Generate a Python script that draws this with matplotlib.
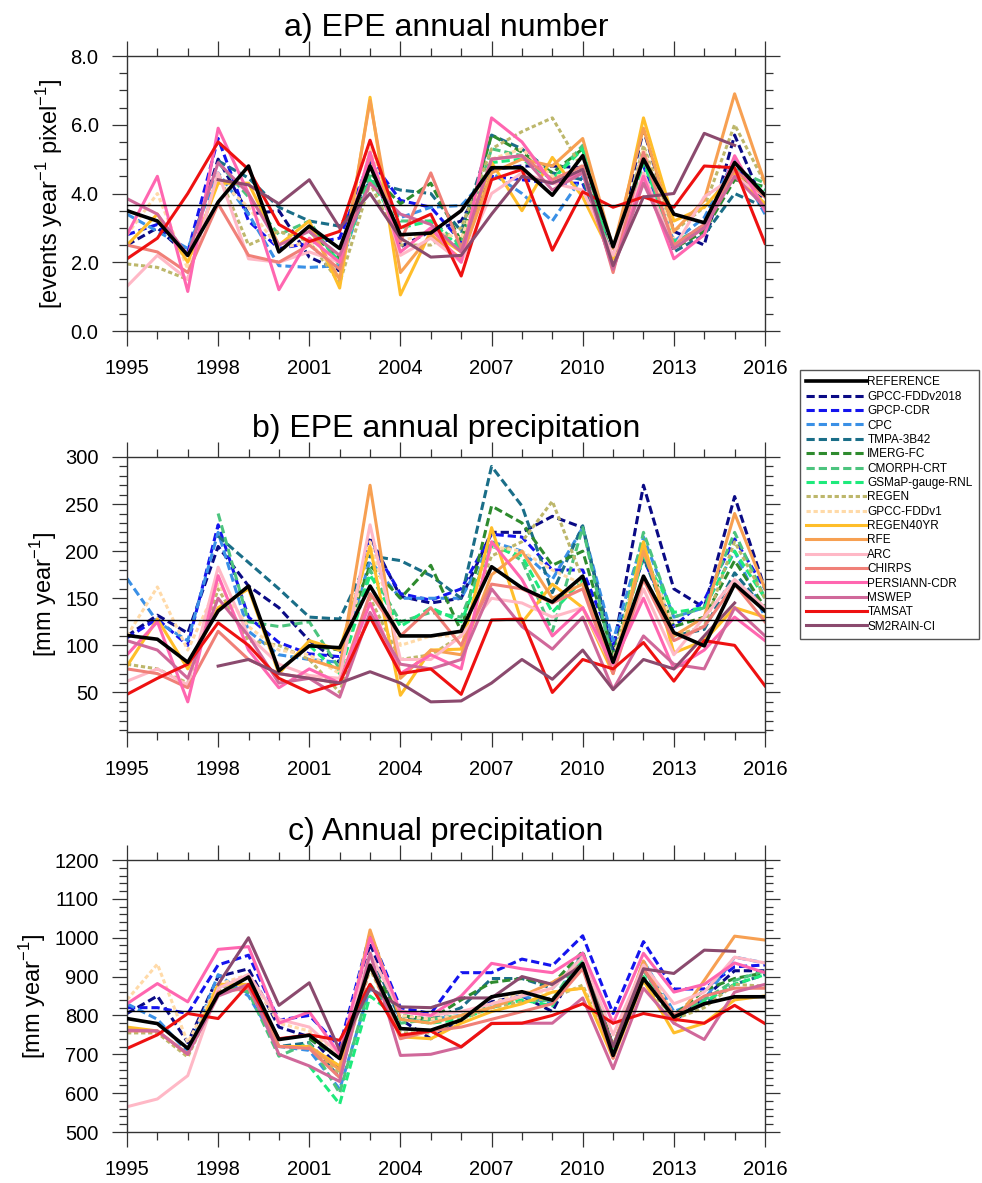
import numpy as np
import matplotlib
matplotlib.use("Agg")
import matplotlib.pyplot as plt
from matplotlib.ticker import MultipleLocator, FormatStrFormatter

plt.rcParams['font.family'] = ['Liberation Sans', 'DejaVu Sans']

N = np.nan
years = list(range(1995, 2017))

names = ["REFERENCE", "GPCC-FDDv2018", "GPCP-CDR", "CPC", "TMPA-3B42", "IMERG-FC",
         "CMORPH-CRT", "GSMaP-gauge-RNL", "REGEN", "GPCC-FDDv1", "REGEN40YR", "RFE",
         "ARC", "CHIRPS", "PERSIANN-CDR", "MSWEP", "TAMSAT", "SM2RAIN-CI"]

# ---- a) EPE annual number
ref_a = [3.5, 3.2, 2.2, 3.75, 4.8, 2.3, 3.05, 2.4, 4.8, 2.8, 2.85, 3.5, 4.75, 4.75, 3.95, 5.1, 2.45, 5.0, 3.4, 3.15, 4.9, 3.95]
gpcc18_a = [2.5, 3.0, 2.2, 5.0, 3.4, 3.5, 2.15, 1.75, 4.9, 2.45, 2.9, 3.2, 4.7, 4.8, 4.8, 4.75, 2.1, 5.85, 2.9, 2.5, 5.7, 3.6]
gpcp_a = [2.8, 3.1, 2.3, 5.6, 3.2, 2.4, 2.55, 2.7, 5.0, 3.8, 3.6, 2.6, 4.5, 4.4, 4.3, 4.3, 2.0, 4.8, 2.6, 3.0, 4.9, 3.5]
cpc_a = [3.4, 2.9, 2.4, 4.6, 3.4, 1.9, 1.85, 1.9, 4.4, 3.3, 3.6, 3.65, 4.6, 4.0, 3.2, 4.5, 1.9, 5.1, 2.6, 3.3, 5.0, 3.4]
tmpa_a = [N, N, N, 4.95, 4.45, 3.6, 3.2, 3.05, 4.35, 4.1, 4.0, 2.9, 5.7, 5.3, 4.6, 4.4, 1.9, 5.3, 2.3, 2.8, 4.0, 3.6]
imerg_a = [N, N, N, N, N, N, 2.9, 2.1, 4.6, 3.7, 4.3, 2.6, 5.7, 5.2, 4.6, 5.3, 1.9, 5.2, 2.4, 2.9, 4.4, 4.2]
cmorph_a = [N, N, N, 4.9, 3.9, 2.8, 3.2, 1.9, 4.5, 3.2, 3.2, 2.5, 5.3, 5.1, 4.4, 5.4, 1.9, 5.0, 2.5, 3.1, 4.7, 4.3]
gsmap_a = [N, N, N, N, N, N, 3.1, 2.0, 4.4, 3.0, 3.2, 2.4, 4.9, 5.0, 4.4, 5.3, 1.8, 4.9, 2.6, 3.0, 4.6, 4.1]
regen_a = [1.95, 1.85, 1.5, 4.6, 2.5, 2.9, 2.6, 1.4, 4.3, 2.5, 2.5, 3.0, 5.3, 5.8, 6.2, 4.7, 1.8, 5.4, 2.9, 3.6, 6.0, 4.3]
fddv1_a = [2.8, 4.0, 1.8, 4.4, 3.6, 2.4, 2.6, 1.6, 5.3, 2.6, 2.9, 2.7, 5.0, 5.3, 4.5, 4.6, 1.9, 5.3, 2.7, N, N, N]
regen40_a = [2.5, 3.4, 2.0, 4.3, 4.3, 2.5, 3.2, 1.25, 6.8, 1.05, 2.9, 2.3, 4.9, 3.5, 5.05, 3.9, 2.1, 6.2, 3.2, 3.6, 4.6, 3.7]
rfe_a = [N, N, N, N, N, N, 3.0, 1.5, 6.7, 1.7, 2.8, 2.1, 4.6, 5.0, 4.8, 5.6, 2.4, 5.9, 2.9, 3.8, 6.9, 4.3]
arc_a = [1.3, 2.2, 1.5, 4.6, 2.1, 2.0, 2.3, 2.0, 5.2, 2.2, 2.7, 2.0, 4.0, 4.6, 4.3, 4.1, 2.2, 4.6, 2.4, 3.9, 4.5, 3.9]
chirps_a = [2.5, 2.3, 1.7, 3.7, 2.2, 2.0, 2.5, 1.8, 5.1, 2.6, 4.6, 2.4, 5.0, 5.1, 4.4, 4.8, 1.7, 5.2, 2.5, 3.1, 4.7, 3.9]
persiann_a = [2.8, 4.5, 1.15, 5.9, 4.0, 1.2, 2.7, 2.0, 5.2, 2.3, 3.0, 2.0, 6.2, 5.5, 4.3, 4.6, 1.8, 4.5, 2.1, 2.8, 5.1, 3.5]
mswep_a = [3.85, 3.4, 2.2, 4.9, 4.0, 2.5, 2.9, 2.2, 4.3, 3.4, 3.1, 2.3, 5.0, 5.1, 4.1, 4.6, 1.8, 4.3, 2.4, 3.0, 4.5, 3.6]
tamsat_a = [2.1, 2.7, 4.0, 5.5, 4.7, 3.1, 2.6, 2.9, 5.55, 3.0, 3.4, 1.6, 4.4, 4.7, 2.35, 4.05, 3.6, 3.9, 3.6, 4.8, 4.75, 2.55]
sm2rain_a = [N, N, N, 4.4, 4.25, 3.7, 4.4, 3.0, 4.0, 2.7, 2.15, 2.2, 3.4, 4.5, 4.3, 4.7, 1.9, 3.9, 4.0, 5.75, 5.4, N]

# ---- b) EPE annual precipitation
ref_b = [110.5, 106.5, 82, 136.5, 163, 73, 99.5, 97.5, 163, 110, 110, 115, 183.5, 161, 146, 173.5, 82, 173.5, 113.5, 99.5, 165, 136.5]
gpcc18_b = [110, 132, 113, 205, 163, 140, 105, 82, 215, 152, 145, 150, 220, 220, 237, 225, 95, 270, 160, 140, 258, 160]
gpcp_b = [108, 128, 100, 228, 130, 103, 91, 88, 210, 155, 148, 160, 218, 215, 180, 180, 100, 192, 120, 148, 213, 160]
cpc_b = [171, 125, 105, 220, 115, 90, 85, 82, 190, 150, 150, 150, 210, 200, 170, 225, 105, 215, 130, 140, 200, 130]
tmpa_b = [N, N, N, 216, 188, 160, 130, 128, 195, 190, 174, 150, 290, 248, 156, 227, 89, 194, 110, 117, 177, 138]
imerg_b = [N, N, N, N, N, N, 100, 95, 185, 150, 185, 115, 248, 230, 185, 200, 90, 200, 120, 130, 190, 140]
cmorph_b = [N, N, N, 240, 125, 120, 125, 75, 180, 125, 135, 130, 210, 190, 115, 225, 80, 220, 130, 140, 220, 150]
gsmap_b = [N, N, N, N, N, N, 100, 70, 175, 120, 140, 125, 205, 195, 135, 170, 80, 195, 135, 140, 200, 150]
regen_b = [80, 75, 60, 160, 105, 100, 85, 50, 150, 85, 90, 110, 195, 210, 253, 170, 80, 205, 110, 120, 210, 150]
fddv1_b = [110, 162, 95, 165, 120, 95, 90, 70, 210, 100, 110, 110, 205, 200, 180, 165, 85, 200, 120, N, N, N]
regen40_b = [78, 128, 75, 140, 160, 70, 105, 95, 205, 47, 95, 96, 225, 124, 165, 140, 70, 210, 92, 105, 140, 130]
rfe_b = [N, N, N, N, N, N, 85, 75, 270, 65, 95, 90, 175, 200, 150, 165, 75, 200, 110, 130, 240, 160]
arc_b = [62, 75, 58, 183, 110, 80, 68, 65, 228, 85, 85, 110, 150, 145, 130, 140, 75, 160, 90, 130, 170, 140]
chirps_b = [75, 70, 55, 115, 85, 70, 65, 60, 155, 110, 140, 100, 165, 160, 145, 160, 70, 170, 105, 120, 165, 125]
persiann_b = [90, 125, 40, 174, 95, 55, 75, 60, 145, 70, 90, 75, 210, 170, 110, 140, 80, 150, 75, 95, 130, 105]
mswep_b = [105, 95, 65, 150, 110, 60, 65, 45, 135, 80, 75, 85, 160, 120, 96, 130, 53, 110, 80, 75, 140, 110]
tamsat_b = [48, 65, 80, 124, 100, 65, 50, 60, 130, 70, 75, 48, 127, 128, 50, 85, 75, 103, 62, 105, 100, 57]
sm2rain_b = [N, N, N, 78, 85, 70, 65, 60, 72, 60, 40, 41, 60, 85, 64, 95, 53, 85, 75, 110, 145, N]

# ---- c) Annual precipitation
ref_c = [792, 779, 715, 855, 899, 738, 749, 689, 929, 766, 762, 788, 848, 861, 839, 934, 697, 895, 796, 830, 848, 848]
gpcc18_c = [805, 850, 730, 900, 920, 770, 745, 665, 985, 790, 740, 790, 835, 850, 810, 960, 720, 935, 785, 845, 915, 915]
gpcp_c = [820, 820, 805, 930, 955, 788, 800, 720, 1010, 820, 805, 910, 910, 945, 928, 1005, 805, 990, 868, 868, 925, 930]
cpc_c = [830, 790, 705, 905, 850, 720, 710, 610, 870, 800, 790, 800, 830, 850, 830, 960, 700, 940, 810, 840, 950, 935]
tmpa_c = [N, N, N, 880, 860, 720, 730, 640, 960, 790, 790, 820, 895, 895, 870, 950, 720, 920, 795, 830, 880, 905]
imerg_c = [N, N, N, N, N, N, 740, 690, 930, 800, 790, 840, 885, 895, 880, 965, 720, 925, 800, 865, 895, 910]
cmorph_c = [N, N, N, 880, 860, 695, 730, 600, 880, 780, 790, 800, 830, 835, 840, 955, 700, 915, 800, 840, 890, 915]
gsmap_c = [N, N, N, N, N, N, 670, 572, 850, 790, 780, 790, 820, 840, 825, 950, 710, 900, 790, 835, 880, 905]
regen_c = [755, 755, 693, 860, 900, 720, 720, 650, 920, 755, 755, 790, 820, 835, 845, 878, 700, 890, 790, 820, 880, 875]
fddv1_c = [840, 932, 730, 880, 905, 780, 760, 700, 1010, 800, 790, 800, 830, 860, 860, 870, 720, 940, 800, N, N, N]
regen40_c = [770, 760, 700, 880, 880, 720, 720, 670, 930, 745, 740, 780, 810, 830, 860, 870, 690, 890, 755, 780, 840, 850]
rfe_c = [N, N, N, N, N, N, 720, 660, 1020, 790, 780, 800, 820, 850, 885, 930, 720, 940, 780, 890, 1004, 994]
arc_c = [565, 585, 645, 870, 905, 790, 770, 700, 960, 810, 800, 810, 830, 850, 870, 950, 750, 930, 830, 860, 950, 935]
chirps_c = [760, 760, 700, 860, 870, 720, 715, 640, 930, 740, 760, 770, 790, 810, 830, 920, 690, 920, 800, 850, 870, 870]
persiann_c = [830, 882, 835, 970, 977, 780, 809, 700, 1000, 810, 800, 850, 934, 920, 910, 960, 780, 960, 860, 880, 935, 910]
mswep_c = [762, 760, 700, 850, 880, 700, 670, 630, 960, 697, 700, 719, 780, 780, 780, 845, 663, 870, 780, 738, 860, 880]
tamsat_c = [715, 750, 805, 792, 880, 740, 750, 736, 880, 749, 760, 719, 779, 780, 800, 830, 780, 805, 790, 780, 826, 779]
sm2rain_c = [N, N, N, 880, 1000, 826, 884, 710, 870, 822, 820, 845, 845, 900, 880, 930, 720, 920, 908, 968, 965, N]

colors = ["black", "#0A0A85", "#1414EE", "#3A90E6", "#1A6E88", "#2E8B2E",
          "#4CC47E", "#1EEA7C", "#BDB76B", "#FFDAA8", "#FFBE2A", "#F7A052",
          "#FFB8C6", "#F08078", "#FF66B0", "#D0689A", "#EE1111", "#8B4A6E"]
dash = (0, (2.7, 1.3))
dot = (0, (1.4, 0.9))
styles = ["-"] + [dash] * 7 + [dot] * 2 + ["-"] * 8

panels = [
    ("a) EPE annual number", r"[events year$^{\mathregular{-1}}$ pixel$^{\mathregular{-1}}$]",
     [ref_a, gpcc18_a, gpcp_a, cpc_a, tmpa_a, imerg_a, cmorph_a, gsmap_a, regen_a, fddv1_a,
      regen40_a, rfe_a, arc_a, chirps_a, persiann_a, mswep_a, tamsat_a, sm2rain_a],
     (0, 8), 2.0, 0.5, "%.1f", (56, 331)),
    ("b) EPE annual precipitation", r"[mm year$^{\mathregular{-1}}$]",
     [ref_b, gpcc18_b, gpcp_b, cpc_b, tmpa_b, imerg_b, cmorph_b, gsmap_b, regen_b, fddv1_b,
      regen40_b, rfe_b, arc_b, chirps_b, persiann_b, mswep_b, tamsat_b, sm2rain_b],
     (8, 300), 50, 10, "%d", (457, 732)),
    ("c) Annual precipitation", r"[mm year$^{\mathregular{-1}}$]",
     [ref_c, gpcc18_c, gpcp_c, cpc_c, tmpa_c, imerg_c, cmorph_c, gsmap_c, regen_c, fddv1_c,
      regen40_c, rfe_c, arc_c, chirps_c, persiann_c, mswep_c, tamsat_c, sm2rain_c],
     (500, 1200), 100, 20, "%d", (860, 1132)),
]

W, H = 982, 1183
fig = plt.figure(figsize=(W / 100, H / 100), dpi=100)

handles = None
for title, ylabel, series, ylim, major, minor, fmt, (ytop, ybot) in panels:
    ax = fig.add_axes([127 / W, 1 - ybot / H, (765 - 127) / W, (ybot - ytop) / H])
    lines = []
    for k in range(1, len(series)):
        ln, = ax.plot(years, series[k], color=colors[k], linestyle=styles[k], lw=2.2)
        lines.append(ln)
    ref_line, = ax.plot(years, series[0], color="black", lw=2.6, zorder=5)
    ax.axhline(np.mean(series[0]), color="black", lw=1.0, zorder=4)
    if handles is None:
        handles = [ref_line] + lines

    ax.set_xlim(1995, 2016)
    ax.set_ylim(*ylim)
    ax.xaxis.set_major_locator(MultipleLocator(3))
    ax.xaxis.set_minor_locator(MultipleLocator(1))
    ax.yaxis.set_major_locator(MultipleLocator(major))
    ax.yaxis.set_minor_locator(MultipleLocator(minor))
    ax.yaxis.set_major_formatter(FormatStrFormatter(fmt))
    ax.tick_params(which="both", direction="out", top=True, right=True,
                   labelsize=14.5, pad=10, width=0.9, color="#333333")
    ax.tick_params(which="major", length=10.5)
    ax.tick_params(which="minor", length=5.5)
    for sp in ax.spines.values():
        sp.set_linewidth(1.0)
        sp.set_color("#333333")
    ax.set_ylabel(ylabel, fontsize=17)
    fig.text(446 / W, 1 - (ytop - 20) / H, title, ha="center", va="baseline", fontsize=23)

fig.legend(handles, names, loc="upper left", bbox_to_anchor=(800 / W, 1 - 370 / H),
           fontsize=8.5, handlelength=5.1, handletextpad=0.05, labelspacing=0.2,
           borderpad=0.55, borderaxespad=0, fancybox=False, edgecolor="#555555",
           framealpha=1)

fig.savefig("out.png", dpi=100)
